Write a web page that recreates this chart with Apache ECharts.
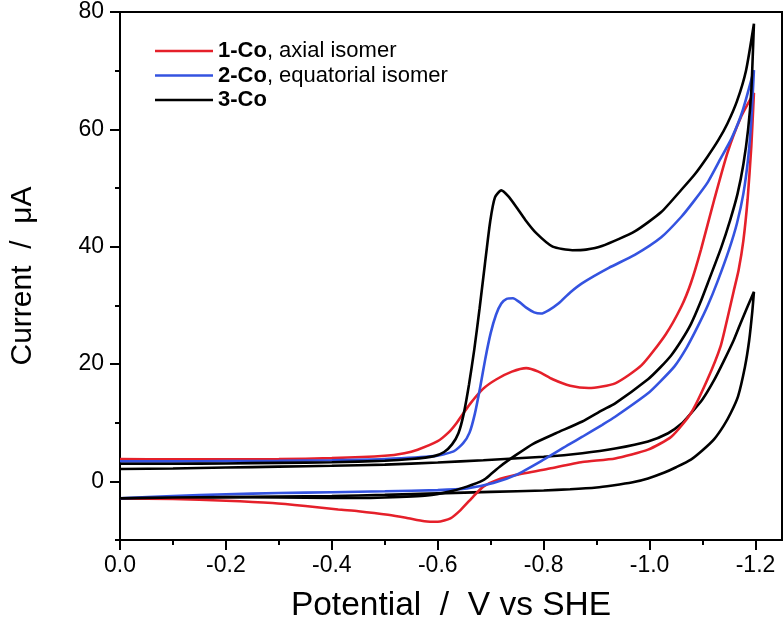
<!DOCTYPE html>
<html>
<head>
<meta charset="utf-8">
<script src="https://cdn.jsdelivr.net/npm/echarts@6/dist/echarts.min.js"></script>
<style>
html,body{margin:0;padding:0;background:#fff;}
#chart{width:784px;height:633px;}
</style>
</head>
<body>
<div id="chart"></div>
<script>
// ---- tick values ----
const xMajorTicks = [0, -0.2, -0.4, -0.6, -0.8, -1.0, -1.2];
const xMinorTicks = [-0.1, -0.3, -0.5, -0.7, -0.9, -1.1];
const yMajorTicks = [0, 20, 40, 60, 80];
const yMinorTicks = [-10, 10, 30, 50, 70];

// ---- legend labels ----
const compoundIds = ['1-Co', '2-Co', '3-Co'];
const compoundDescs = [', axial isomer', ', equatorial isomer', ''];

// ---- data: [potential V vs SHE, current uA] ----
const co1Forward = [[0,3.8],[-0.1,3.75],[-0.2,3.75],[-0.3,3.8],[-0.4,3.95],[-0.5,4.35],[-0.537,4.8],[-0.562,5.4],[-0.599,6.8],[-0.62,8.3],[-0.636,10.0],[-0.661,13.2],[-0.686,15.8],[-0.711,17.4],[-0.74,18.7],[-0.767,19.3],[-0.79,18.7],[-0.817,17.4],[-0.85,16.3],[-0.885,15.9],[-0.935,16.7],[-0.985,19.8],[-1.03,25.0],[-1.06,29.8],[-1.078,33.8],[-1.097,39.5],[-1.122,48.0],[-1.147,56.0],[-1.172,62.0],[-1.197,66.2]];
const co1Return = [[-1.197,66.2],[-1.192,57],[-1.185,48],[-1.177,41],[-1.168,36],[-1.159,32.5],[-1.147,27.8],[-1.134,23.0],[-1.109,17.3],[-1.078,11.6],[-1.041,7.6],[-0.997,5.4],[-0.935,3.9],[-0.873,3.3],[-0.811,2.2],[-0.748,1.1],[-0.711,0.2],[-0.686,-0.9],[-0.667,-2.6],[-0.643,-4.9],[-0.624,-6.3],[-0.6,-6.9],[-0.575,-6.8],[-0.54,-6.2],[-0.506,-5.7],[-0.45,-5.1],[-0.412,-4.8],[-0.35,-4.2],[-0.288,-3.7],[-0.2,-3.3],[-0.1,-3.0],[0,-2.9]];

const co2Forward = [[0,3.4],[-0.1,3.4],[-0.2,3.45],[-0.3,3.5],[-0.4,3.6],[-0.5,3.8],[-0.593,4.3],[-0.63,5.1],[-0.648,6.5],[-0.66,8.3],[-0.67,11.5],[-0.68,16],[-0.69,21],[-0.70,25.3],[-0.71,28.4],[-0.72,30.3],[-0.73,31.1],[-0.742,31.2],[-0.755,30.5],[-0.767,29.6],[-0.782,28.8],[-0.795,28.6],[-0.81,29.2],[-0.829,30.4],[-0.85,32.2],[-0.873,33.8],[-0.923,36.4],[-0.972,38.6],[-1.022,41.6],[-1.06,45.1],[-1.084,47.8],[-1.11,51],[-1.134,55],[-1.155,58.5],[-1.175,63],[-1.197,70.1]];
const co2Return = [[-1.197,70.1],[-1.192,61.5],[-1.186,55],[-1.177,49],[-1.165,44],[-1.15,39.5],[-1.128,34.0],[-1.11,30.0],[-1.091,26.4],[-1.07,22.8],[-1.047,19.6],[-1.02,17.0],[-0.997,15.0],[-0.935,11.0],[-0.91,9.6],[-0.873,7.6],[-0.848,6.3],[-0.798,3.6],[-0.748,1.1],[-0.705,-0.3],[-0.655,-1.2],[-0.6,-1.5],[-0.5,-1.7],[-0.4,-1.85],[-0.3,-2.0],[-0.2,-2.2],[-0.1,-2.5],[0,-2.9]];

const co3Forward = [[0,3.0],[-0.1,3.0],[-0.2,3.05],[-0.3,3.15],[-0.4,3.25],[-0.5,3.5],[-0.55,3.8],[-0.593,4.3],[-0.612,5.0],[-0.627,6.3],[-0.639,8.2],[-0.649,11.5],[-0.659,16.5],[-0.669,22.5],[-0.679,29.5],[-0.689,37],[-0.699,44.3],[-0.708,48.4],[-0.72,49.6],[-0.733,48.6],[-0.748,46.8],[-0.765,44.6],[-0.786,42.3],[-0.817,40.0],[-0.854,39.4],[-0.88,39.5],[-0.91,40.1],[-0.972,42.6],[-1.022,45.9],[-1.06,49.7],[-1.085,52.3],[-1.109,55.3],[-1.13,58.2],[-1.147,61.0],[-1.165,64.8],[-1.182,70],[-1.197,78.0]];
const co3Return = [[-1.197,78.0],[-1.192,66.5],[-1.186,60],[-1.177,54],[-1.166,49],[-1.152,44.5],[-1.135,39.8],[-1.112,34.3],[-1.095,30.3],[-1.078,26.8],[-1.06,24.0],[-1.041,21.5],[-1.02,19.4],[-0.997,17.4],[-0.935,13.3],[-0.91,12.1],[-0.873,10.2],[-0.823,8.2],[-0.78,6.4],[-0.748,4.5],[-0.717,2.5],[-0.7,1.2],[-0.686,0.2],[-0.655,-0.9],[-0.62,-1.8],[-0.58,-2.4],[-0.5,-2.75],[-0.45,-2.85],[-0.4,-2.85],[-0.3,-2.75],[-0.2,-2.7],[-0.1,-2.75],[0,-2.9]];

const blankForward = [[0,2.1],[-0.1,2.2],[-0.2,2.35],[-0.3,2.5],[-0.4,2.65],[-0.5,2.85],[-0.6,3.2],[-0.686,3.6],[-0.8,4.2],[-0.873,4.8],[-0.935,5.6],[-0.997,6.8],[-1.035,8.2],[-1.06,9.8],[-1.078,11.6],[-1.1,14.0],[-1.122,17.3],[-1.14,20.5],[-1.159,24.1],[-1.172,27],[-1.185,29.8],[-1.197,32.3]];
const blankReturn = [[-1.197,32.3],[-1.194,29],[-1.188,24],[-1.18,19.5],[-1.167,14.5],[-1.153,11.6],[-1.14,9.5],[-1.122,7.2],[-1.1,5.3],[-1.078,3.7],[-1.05,2.4],[-1.028,1.5],[-0.997,0.5],[-0.966,-0.2],[-0.93,-0.7],[-0.9,-1.05],[-0.85,-1.35],[-0.8,-1.55],[-0.7,-1.8],[-0.6,-2.05],[-0.5,-2.3],[-0.4,-2.5],[-0.3,-2.6],[-0.2,-2.7],[-0.1,-2.8],[0,-2.9]];

const FONT = '"Liberation Sans", Arial, Helvetica, sans-serif';
const RED = '#e5202a', BLUE = '#3453e0', BLACK = '#000000';

const names = compoundIds.map((id, i) => id + compoundDescs[i]);

function loop(name, fwd, ret, color) {
  return {
    name: name,
    type: 'line',
    data: fwd.concat(ret.slice(1)),
    symbol: 'none',
    showSymbol: false,
    smooth: 0.2,
    lineStyle: { color: color, width: 2.6 },
    itemStyle: { color: color },
    z: 3
  };
}

const chart = echarts.init(document.getElementById('chart'), null, { renderer: 'canvas' });
chart.setOption({
  animation: false,
  backgroundColor: '#fff',
  grid: { left: 112.5, right: 2, top: 12, bottom: 93, show: true, borderColor: '#000', borderWidth: 2, containLabel: false },
  legend: {
    data: names,
    orient: 'vertical',
    left: 150,
    top: 34,
    icon: 'rect',
    itemWidth: 58,
    itemHeight: 2.6,
    itemGap: 0.5,
    textStyle: {
      fontFamily: FONT, fontSize: 22, color: '#000', lineHeight: 24,
      rich: { b: { fontFamily: FONT, fontSize: 22, fontWeight: 'bold', color: '#000', lineHeight: 24 } }
    },
    formatter: function (name) {
      const i = names.indexOf(name);
      return '{b|' + compoundIds[i] + '}' + compoundDescs[i];
    }
  },
  xAxis: [
    {
      type: 'value', min: -1.25, max: 0, inverse: true, position: 'bottom',
      name: 'Potential  /  V vs SHE', nameLocation: 'middle', nameGap: 49,
      nameTextStyle: { fontFamily: FONT, fontSize: 33.5, color: '#000' },
      axisLine: { show: true, onZero: false, lineStyle: { color: '#000', width: 2 } },
      splitLine: { show: false },
      axisTick: { show: true, inside: false, length: 10, customValues: xMajorTicks, lineStyle: { color: '#000', width: 2 } },
      axisLabel: { show: true, customValues: xMajorTicks, margin: 14, fontFamily: FONT, fontSize: 23, color: '#000',
        formatter: v => v.toFixed(1) }
    },
    {
      type: 'value', min: -1.25, max: 0, inverse: true, position: 'bottom', gridIndex: 0,
      axisLine: { show: false, onZero: false }, splitLine: { show: false }, axisLabel: { show: false },
      axisTick: { show: true, inside: false, length: 5, customValues: xMinorTicks, lineStyle: { color: '#000', width: 2 } }
    }
  ],
  yAxis: [
    {
      type: 'value', min: -10, max: 80, position: 'left',
      name: 'Current  /  \u03bcA', nameLocation: 'middle', nameGap: 82,
      nameTextStyle: { fontFamily: FONT, fontSize: 30, color: '#000' },
      axisLine: { show: true, onZero: false, lineStyle: { color: '#000', width: 2 } },
      splitLine: { show: false },
      axisTick: { show: true, inside: false, length: 10, customValues: yMajorTicks, lineStyle: { color: '#000', width: 2 } },
      axisLabel: { show: true, customValues: yMajorTicks, margin: 16, fontFamily: FONT, fontSize: 23, color: '#000' }
    },
    {
      type: 'value', min: -10, max: 80, position: 'left', gridIndex: 0,
      axisLine: { show: false, onZero: false }, splitLine: { show: false }, axisLabel: { show: false },
      axisTick: { show: true, inside: false, length: 5, customValues: yMinorTicks, lineStyle: { color: '#000', width: 2 } }
    }
  ],
  series: [
    loop('blank', blankForward, blankReturn, BLACK),
    loop(names[0], co1Forward, co1Return, RED),
    loop(names[1], co2Forward, co2Return, BLUE),
    loop(names[2], co3Forward, co3Return, BLACK)
  ]
});
</script>
</body>
</html>
